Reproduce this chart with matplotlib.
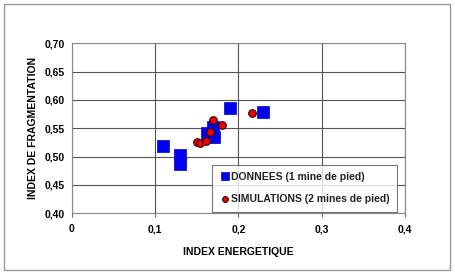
import matplotlib
matplotlib.use("Agg")
import matplotlib.pyplot as plt
from matplotlib.patches import Rectangle

donnees_x = [0.110, 0.130, 0.130, 0.162, 0.171, 0.170, 0.190, 0.230]
donnees_y = [0.518, 0.503, 0.487, 0.541, 0.535, 0.552, 0.586, 0.579]
sim_x = [0.150, 0.154, 0.161, 0.166, 0.169, 0.180, 0.217]
sim_y = [0.525, 0.524, 0.527, 0.543, 0.564, 0.555, 0.577]
xticks = [0, 0.1, 0.2, 0.3, 0.4]
xticklabels = ["0", "0,1", "0,2", "0,3", "0,4"]
yticks = [0.40, 0.45, 0.50, 0.55, 0.60, 0.65, 0.70]
yticklabels = ["0,40", "0,45", "0,50", "0,55", "0,60", "0,65", "0,70"]

plt.rcParams['font.family'] = ['Liberation Sans', 'DejaVu Sans']
FS = 7.5

fig = plt.figure(figsize=(4.55, 2.73), dpi=100)
fig.patches.append(Rectangle((0.008, 0.01), 0.982, 0.975, transform=fig.transFigure,
                             fill=False, edgecolor='#999999', linewidth=1.0))
ax = fig.add_axes([0.1576, 0.2187, 0.7324, 0.6227])
ax.set_xlim(0, 0.4)
ax.set_ylim(0.40, 0.70)
ax.set_xticks(xticks)
ax.set_xticklabels(xticklabels, fontsize=FS, fontweight='bold')
ax.set_yticks(yticks)
ax.set_yticklabels(yticklabels, fontsize=FS, fontweight='bold')
ax.grid(True, color='#555555', linewidth=0.8)
ax.set_axisbelow(True)
for s in ax.spines.values():
    s.set_color('#888888')
    s.set_linewidth(0.8)
ax.tick_params(axis='x', direction='out', length=3, color='#666666', pad=5)
ax.tick_params(axis='y', direction='out', length=0, pad=5)

ax.plot(donnees_x, donnees_y, linestyle='none', marker='s', markersize=8,
        markerfacecolor='#0000ee', markeredgecolor='#0000cc', markeredgewidth=0.5,
        label='DONNEES (1 mine de pied)')
ax.plot(sim_x, sim_y, linestyle='none', marker='o', markersize=5.5,
        markerfacecolor='#ee0000', markeredgecolor='#330000', markeredgewidth=0.8,
        label='SIMULATIONS (2 mines de pied)')

ax.set_xlabel('INDEX ENERGETIQUE', fontsize=FS, fontweight='bold', labelpad=9)
ax.set_ylabel('INDEX DE FRAGMENTATION', fontsize=FS, fontweight='bold', labelpad=5)

leg = ax.legend(loc='lower right', bbox_to_anchor=(0.976, 0.01), fontsize=FS,
                frameon=True, fancybox=False, handletextpad=0.1, handlelength=1.0,
                borderpad=0.7, labelspacing=1.2, markerscale=0.75, borderaxespad=0)
leg.get_frame().set_edgecolor('#555555')
leg.get_frame().set_linewidth(0.8)
for t in leg.get_texts():
    t.set_fontweight('bold')
    t.set_color('#222222')

fig.savefig('out.png', dpi=100)
